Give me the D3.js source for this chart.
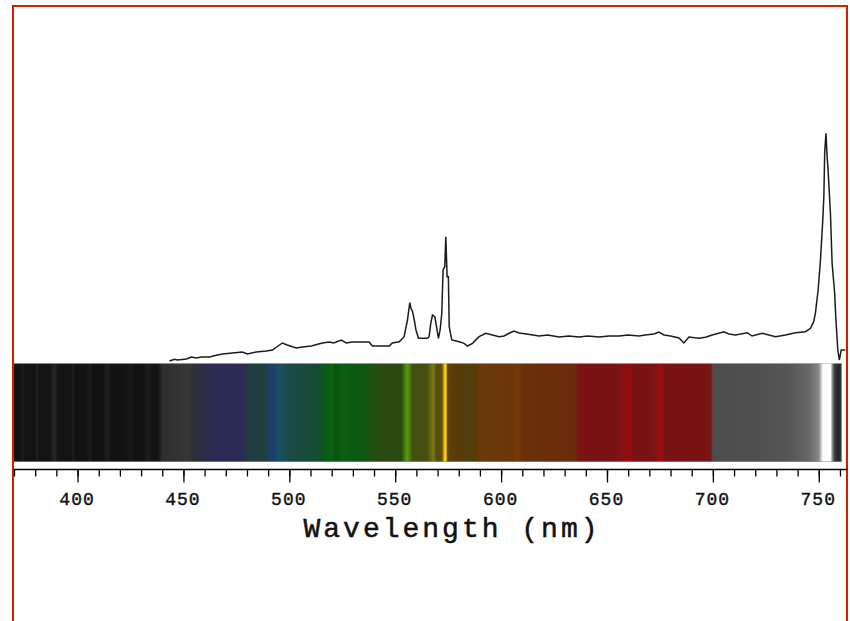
<!DOCTYPE html>
<html><head><meta charset="utf-8">
<script src="https://cdn.jsdelivr.net/npm/d3@7"></script>
<style>html,body{margin:0;padding:0;background:#fff;overflow:hidden}</style>
</head><body>
<svg id="chart" width="850" height="621"></svg>
<script>
// Spectrum samples: wavelength (nm) and intensity (arbitrary units)
const wavelengths = [443.4,445.8,447.2,451.4,453.8,456.1,458.5,462.3,465,468.4,473.1,477.8,480.2,484.4,489.2,492,496.7,499,503.3,506.1,510.4,515.6,518.9,521,524.5,526.9,529.7,533,537.7,539.2,547.2,548.6,551.9,554.2,555,555.8,556.3,556.9,557.4,558.2,559,559.8,561,565.2,566,566.8,567.6,568.7,569.5,570.4,571.2,572,572.6,573.4,573.9,574.5,575.1,575.5,576.7,580.2,582.5,584.1,586.5,589.6,592.8,595.9,599,601.4,604,606.1,608.5,612,617.9,622,627.4,632,636.8,641,646.2,651,655.7,660,665.1,668,672.2,674.5,676.9,680,684,686.3,688.7,693.4,696.5,699.7,705.2,707.5,710.7,716.2,718.5,723.3,729.6,734.3,739,743.7,746.1,747.6,748.4,749.7,750.8,751.9,752.4,752.8,753.4,753.9,754.4,755.5,756.3,757.5,758.1,759,759.7,760.6,762.5];
const intensity = [1,2.7,2,3,5,4,5,5,6.5,8,9,10,8,10,11,12,19,17,14,15,16,19,20,19,22,19,20,20,20,16,16,19,20.3,25.3,34,42,50.3,59.3,54,50.3,42,32,23.7,23.7,25.3,39,47,45.3,35.3,23.7,32,48.7,92,95.3,125.3,85.3,85.3,35.3,22,20.3,18.7,16,18.7,25.3,28.7,27,25.3,26,29,31,29,28,26,27,25,26,25,26,25,26,26,27,26,27,28,30,27,26,24,19,25,23.7,24.7,27,30.3,28,27,29.3,26,28.7,25.3,27,29.3,30.3,33.7,40.3,48.7,72,102,142,165.3,210.3,228.7,207,192,149,98.7,68.7,42,12,2,12,12];

// Colour band stops: wavelength (nm) and colour
const bandWl = [370,373,374,375,380,381,382,387,389,391,397,398,399,404,406,407,412,414,416,423,425,427,431,433,436,438,440,448,452,455,460,465,478,481,489,491,493,495,500,510,515,517,520,522,525,530,535,540,544,553,555.5,557,558,565,568,569.5,572,573.3,574,574.7,580,585,588,590,605,608,610,620,630,635,636.5,655,658,660,662,672,675,677,699,700,720,735,745,750,752,755.5,756.5,757.5,759.5,760.8];
const bandColor = ["#131313","#131313","#1e1e1e","#131313","#131313","#202020","#131313","#141414","#262626","#151515","#131313","#202020","#131313","#121212","#1e1e1e","#121212","#121212","#202020","#121212","#141414","#1a1a1a","#121212","#121212","#1e1e1e","#131313","#151515","#2e2e2e","#333333","#363636","#2f2f3a","#2d2d48","#2b2b55","#2b2b55","#203c40","#1f4040","#1e3e6c","#1e3e6c","#1a5060","#1a4a48","#184a3a","#12502a","#0a5a14","#0a6212","#0a5210","#0a6010","#0a5a10","#0e5810","#205010","#2a4a10","#2a4a10","#5a9a10","#4a7a10","#405010","#484c10","#7a7a10","#505010","#604a10","#f0c800","#ffd800","#604010","#5a3a08","#504010","#5a3a08","#6a3a0a","#6e360a","#7a3a0a","#6a300a","#6c2e0a","#6a2c0a","#6a2c0a","#7a1414","#7a1414","#8a1010","#9a0a0a","#7a1414","#7a1414","#a00c0c","#7a1414","#7a1414","#4d4d4d","#4f4f4f","#555555","#666666","#888888","#ffffff","#ffffff","#888888","#3a3a3a","#222222","#444444"];

const majorTicks = [400,450,500,550,600,650,700,750];
const minorTicks = d3.range(370, 761, 10);
const axisTitle = "Wavelength (nm)";

const svg = d3.select("#chart");
const x = d3.scaleLinear().domain([370, 763.8]).range([14, 848]);
const y = d3.scaleLinear().domain([0, 230]).range([362, 132]);

// red frame
svg.append("rect").attr("x", 13).attr("y", 6).attr("width", 834).attr("height", 700)
  .attr("fill", "none").attr("stroke", "#d41c00").attr("stroke-width", 2);

// colour band gradient
const defs = svg.append("defs");
const bandX0 = x(370), bandX1 = x(bandWl[bandWl.length - 1]);
const grad = defs.append("linearGradient").attr("id", "band")
  .attr("gradientUnits", "userSpaceOnUse")
  .attr("x1", bandX0).attr("x2", bandX1).attr("y1", 0).attr("y2", 0);
grad.selectAll("stop").data(bandWl).join("stop")
  .attr("offset", d => (x(d) - bandX0) / (bandX1 - bandX0))
  .attr("stop-color", (d, i) => bandColor[i]);

svg.append("rect").attr("x", bandX0).attr("y", 363).attr("width", bandX1 - bandX0).attr("height", 99)
  .attr("fill", "url(#band)");
svg.append("line").attr("x1", bandX0).attr("x2", bandX1).attr("y1", 363.5).attr("y2", 363.5)
  .attr("stroke", "#bbbbbb").attr("stroke-width", 1).attr("opacity", 0.7);
svg.append("line").attr("x1", bandX0).attr("x2", bandX1).attr("y1", 461.5).attr("y2", 461.5)
  .attr("stroke", "#999999").attr("stroke-width", 1).attr("opacity", 0.6);

// spectrum line
const pts = wavelengths.map((w, i) => [w, intensity[i]]);
svg.append("path").datum(pts)
  .attr("fill", "none").attr("stroke", "#1c1c1c").attr("stroke-width", 1.5)
  .attr("d", d3.line().x(d => x(d[0])).y(d => y(d[1])));

// axis
const axisY = 469.5;
const gAxis = svg.append("g").attr("transform", `translate(0,${axisY})`);
gAxis.call(d3.axisBottom(x).tickValues(minorTicks).tickSize(7).tickFormat(""));
gAxis.select(".domain").attr("stroke", "#000").attr("stroke-width", 1.6)
  .attr("d", `M${x(370)},0H${x(763.8)}`);
gAxis.selectAll(".tick line").attr("stroke", "#000").attr("stroke-width", 1.3);

const gMajor = svg.append("g").attr("transform", `translate(0,${axisY})`);
gMajor.call(d3.axisBottom(x).tickValues(majorTicks).tickSize(13).tickPadding(10));
gMajor.select(".domain").remove();
gMajor.selectAll(".tick line").attr("stroke", "#000").attr("stroke-width", 1.3);
gMajor.selectAll(".tick text")
  .attr("font-family", "'Liberation Mono', 'DejaVu Sans Mono', monospace")
  .attr("font-size", 18).attr("fill", "#111").attr("letter-spacing", 1)
  .attr("stroke", "#111").attr("stroke-width", 0.4)
  .attr("dx", -1);

svg.append("text").attr("x", 452).attr("y", 537).attr("text-anchor", "middle")
  .attr("font-family", "'Liberation Mono', 'DejaVu Sans Mono', monospace")
  .attr("font-size", 28).attr("letter-spacing", 3).attr("fill", "#111")
  .attr("stroke", "#111").attr("stroke-width", 0.5)
  .text(axisTitle);
</script>
</body></html>
